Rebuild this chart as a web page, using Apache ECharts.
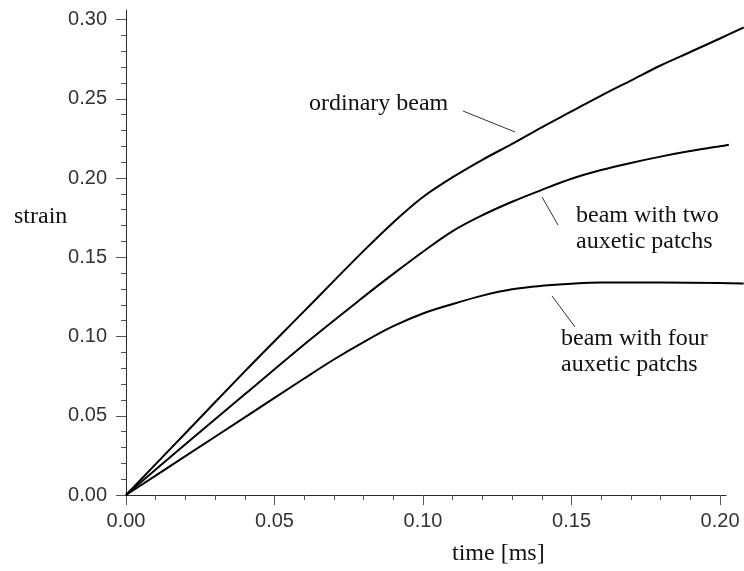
<!DOCTYPE html>
<html>
<head>
<meta charset="utf-8">
<script src="https://cdn.jsdelivr.net/npm/echarts@6/dist/echarts.min.js"></script>
<style>
  html, body { margin: 0; background: #fff; }
  #chart { width: 744px; height: 571px; }
</style>
</head>
<body>
<div id="chart"></div>
<script>
// time [ms] / strain
const tOrdinary = [0, 0.02, 0.04, 0.06, 0.08, 0.09, 0.10, 0.11, 0.12, 0.13, 0.14, 0.15, 0.16, 0.17, 0.18, 0.19, 0.20, 0.208]
const sOrdinary = [0, 0.039, 0.078, 0.116, 0.154, 0.172, 0.188, 0.2005, 0.2115, 0.2215, 0.232, 0.242, 0.252, 0.2615, 0.271, 0.2795, 0.288, 0.295]

const tTwo = [0, 0.02, 0.04, 0.06, 0.08, 0.09, 0.10, 0.11, 0.12, 0.13, 0.14, 0.15, 0.16, 0.17, 0.18, 0.19, 0.20, 0.203]
const sTwo = [0, 0.032, 0.0635, 0.095, 0.125, 0.1395, 0.1535, 0.1665, 0.1765, 0.185, 0.1925, 0.1995, 0.205, 0.2095, 0.2135, 0.217, 0.22, 0.221]

const tFour = [0, 0.02, 0.04, 0.06, 0.07, 0.08, 0.09, 0.10, 0.11, 0.12, 0.13, 0.14, 0.15, 0.16, 0.18, 0.20, 0.208]
const sFour = [0, 0.0245, 0.049, 0.0735, 0.0855, 0.0965, 0.1065, 0.1145, 0.1205, 0.1258, 0.1298, 0.132, 0.1333, 0.134, 0.134, 0.1337, 0.1335]

// tick values
const xMajor = [0, 0.05, 0.10, 0.15, 0.20]
const xMinor = [0, 0.01, 0.02, 0.03, 0.04, 0.05, 0.06, 0.07, 0.08, 0.09, 0.10, 0.11, 0.12, 0.13, 0.14, 0.15, 0.16, 0.17, 0.18, 0.19, 0.20]
const yMajor = [0, 0.05, 0.10, 0.15, 0.20, 0.25, 0.30]
const yMinor = [0, 0.01, 0.02, 0.03, 0.04, 0.05, 0.06, 0.07, 0.08, 0.09, 0.10, 0.11, 0.12, 0.13, 0.14, 0.15, 0.16, 0.17, 0.18, 0.19, 0.20, 0.21, 0.22, 0.23, 0.24, 0.25, 0.26, 0.27, 0.28, 0.29, 0.30]

const zip = (a, b) => a.map((v, i) => [v, b[i]])

const axisColor = '#2a2a2a'
const labelFont = { color: '#333', fontFamily: 'Liberation Sans', fontSize: 20 }
const serif = 'Liberation Serif'

// same px per unit as grid 0, but the plot runs on to the right edge (curves leave the axis box)
const xMax = 0.202
const xMaxPlot = 0.2081
const yMax = 0.306

function majorAxis(max, ticks, margin, pos) {
  return {
    type: 'value',
    gridIndex: 0,
    position: pos,
    min: 0,
    max: max,
    axisLine: { show: true, onZero: false, lineStyle: { color: axisColor, width: 1 } },
    axisTick: { show: true, length: 10, customValues: ticks, lineStyle: { color: '#555' } },
    axisLabel: Object.assign({
      customValues: ticks,
      margin: margin,
      formatter: function (v) { return v.toFixed(2) }
    }, labelFont),
    splitLine: { show: false }
  }
}

function minorAxis(max, ticks, pos) {
  return {
    type: 'value',
    gridIndex: 0,
    position: pos,
    min: 0,
    max: max,
    axisLine: { show: false },
    axisTick: { show: true, length: 5, customValues: ticks, lineStyle: { color: '#555' } },
    axisLabel: { show: false },
    splitLine: { show: false }
  }
}

function hiddenAxis(max) {
  return {
    type: 'value', gridIndex: 1, min: 0, max: max, show: false,
    splitLine: { show: false }
  }
}

function curve(name, data) {
  return {
    name: name,
    type: 'line',
    xAxisIndex: 2,
    yAxisIndex: 2,
    data: data,
    smooth: 0.35,
    symbol: 'none',
    lineStyle: { color: '#000', width: 2 }
  }
}

function text(str, x, y) {
  return {
    type: 'text', x: x, y: y,
    style: { text: str, font: '24px "' + serif + '"', fill: '#111', verticalAlign: 'middle' }
  }
}

function leader(x1, y1, x2, y2) {
  return {
    type: 'line',
    shape: { x1: x1, y1: y1, x2: x2, y2: y2 },
    style: { stroke: '#333', lineWidth: 1 }
  }
}

const chart = echarts.init(document.getElementById('chart'))
chart.setOption({
  animation: false,
  backgroundColor: '#fff',
  grid: [
    { left: 126, right: 18, top: 10, bottom: 76 },
    { left: 126, right: 0, top: 10, bottom: 76 }
  ],
  xAxis: [
    majorAxis(xMax, xMajor, 16, 'bottom'),
    minorAxis(xMax, xMinor, 'bottom'),
    hiddenAxis(xMaxPlot)
  ],
  yAxis: [
    majorAxis(yMax, yMajor, 19, 'left'),
    minorAxis(yMax, yMinor, 'left'),
    hiddenAxis(yMax)
  ],
  series: [
    curve('ordinary beam', zip(tOrdinary, sOrdinary)),
    curve('beam with two auxetic patchs', zip(tTwo, sTwo)),
    curve('beam with four auxetic patchs', zip(tFour, sFour))
  ],
  graphic: [
    text('strain', 14, 217),
    text('time [ms]', 452, 554),
    text('ordinary beam', 309, 104),
    leader(463, 111, 515, 132),
    text('beam with two', 576, 216),
    text('auxetic patchs', 576, 242),
    leader(542, 197, 558, 225),
    text('beam with four', 561, 339),
    text('auxetic patchs', 561, 365),
    leader(552, 296, 575, 327)
  ]
})
</script>
</body>
</html>
